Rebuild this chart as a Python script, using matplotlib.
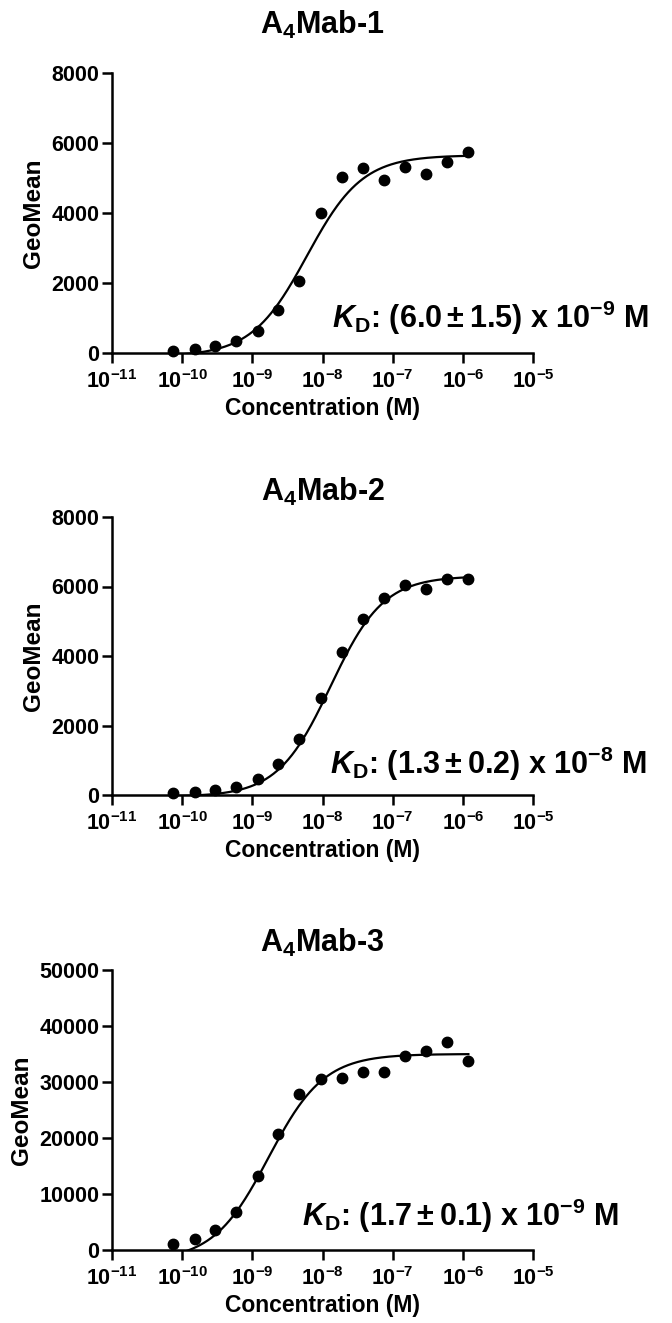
import matplotlib
matplotlib.use("Agg")
import matplotlib.pyplot as plt
import numpy as np

plt.rcParams['font.family'] = ['Liberation Sans', 'DejaVu Sans']
plt.rcParams['font.weight'] = 'bold'
plt.rcParams['mathtext.fontset'] = 'custom'
plt.rcParams['mathtext.rm'] = 'Liberation Sans:bold'
plt.rcParams['mathtext.bf'] = 'Liberation Sans:bold'
plt.rcParams['mathtext.it'] = 'Liberation Sans:italic:bold'
plt.rcParams['mathtext.default'] = 'rm'

MINUS = '\u2212'

# concentrations (M), same dilution series in all three panels
conc = [7.3e-11, 1.5e-10, 2.9e-10, 5.9e-10, 1.2e-9, 2.3e-9, 4.7e-9, 9.4e-9,
        1.9e-8, 3.8e-8, 7.5e-8, 1.5e-7, 3.0e-7, 6.0e-7, 1.2e-6]

geo_1 = [70, 115, 190, 335, 640, 1240, 2060, 4000, 5020, 5280, 4950, 5300, 5110, 5450, 5750]
geo_2 = [67, 96, 144, 240, 450, 890, 1600, 2790, 4110, 5060, 5670, 6030, 5930, 6220, 6220]
geo_3 = [1070, 1900, 3570, 6730, 13200, 20800, 27800, 30500, 30700, 31700, 31700, 34700, 35500, 37200, 33700]

titles = ['A$_4$Mab-1', 'A$_4$Mab-2', 'A$_4$Mab-3']
kd_text = ['$6.0\\pm1.5$) x 10$^{' + MINUS + '9}$ M',
           '$1.3\\pm0.2$) x 10$^{' + MINUS + '8}$ M',
           '$1.7\\pm0.1$) x 10$^{' + MINUS + '9}$ M']
kd_labels = [r'$\mathit{K}_\mathrm{D}$: (' + s for s in kd_text]

# fit parameters (KD, Bmax, hill, bottom)
kd_vals = [6.0e-9, 1.3e-8, 1.7e-9]
bmax_vals = [5650, 6300, 35000]
hill_vals = [1.1, 1.15, 1.1]
bottom_vals = [-100, -50, -2000]

ymax_vals = [8000, 8000, 50000]
yticks_list = [[0, 2000, 4000, 6000, 8000], [0, 2000, 4000, 6000, 8000],
               [0, 10000, 20000, 30000, 40000, 50000]]

xticks = [1e-11, 1e-10, 1e-9, 1e-8, 1e-7, 1e-6, 1e-5]
xtick_labels = ['10$^{-11}$', '10$^{-10}$', '10$^{-9}$', '10$^{-8}$', '10$^{-7}$', '10$^{-6}$', '10$^{-5}$']

all_data = [geo_1, geo_2, geo_3]

W, H = 672, 1323
fig = plt.figure(figsize=(W / 100, H / 100), dpi=100)

# axes boxes in pixels: (left, top, right, bottom)
boxes = [(112, 73, 533, 353), (112, 517, 533, 795), (112, 970, 533, 1250)]
title_y = [25, 492, 943]
kd_pos = [(332, 328), (330, 774), (302, 1226)]

for i in range(3):
    l, t, r, b = boxes[i]
    ax = fig.add_axes([l / W, 1 - b / H, (r - l) / W, (b - t) / H])
    ax.set_xscale('log')
    ax.set_xlim(1e-11, 1e-5)
    ax.set_ylim(0, ymax_vals[i])

    xfit = np.logspace(np.log10(conc[0]), np.log10(conc[-1]), 400)
    yfit = bottom_vals[i] + (bmax_vals[i] - bottom_vals[i]) * xfit ** hill_vals[i] / (kd_vals[i] ** hill_vals[i] + xfit ** hill_vals[i])
    ax.plot(xfit, yfit, color='black', lw=1.6, zorder=2)
    ax.plot(conc, all_data[i], 'o', color='black', ms=7.5, zorder=3, clip_on=False)

    ax.spines['top'].set_visible(False)
    ax.spines['right'].set_visible(False)
    ax.spines['left'].set_linewidth(1.8)
    ax.spines['bottom'].set_linewidth(1.8)

    ax.set_xticks(xticks)
    ax.set_xticklabels(xtick_labels)
    ax.set_yticks(yticks_list[i])
    ax.set_yticklabels([str(v) for v in yticks_list[i]])
    ax.xaxis.set_minor_locator(matplotlib.ticker.LogLocator(base=10, subs=np.arange(2, 10)))
    ax.xaxis.set_minor_formatter(matplotlib.ticker.NullFormatter())
    ax.tick_params(axis='both', which='major', direction='out', length=7, width=1.8,
                   labelsize=15.5, pad=2)
    ax.tick_params(axis='x', which='major', pad=5)
    ax.tick_params(axis='x', which='minor', direction='out', length=4, width=1.4)
    for lab in ax.get_xticklabels() + ax.get_yticklabels():
        lab.set_fontweight('bold')

    ax.set_xlabel('Concentration (M)', fontsize=16.5, fontweight='bold', labelpad=3)
    ax.set_ylabel('GeoMean', fontsize=17.5, fontweight='bold', labelpad=5)

    fig.text((l + r) / 2 / W, 1 - title_y[i] / H, titles[i], ha='center', va='center',
             fontsize=22, fontweight='bold')
    x0, y0 = kd_pos[i]
    fig.text(x0 / W, 1 - y0 / H, kd_labels[i], ha='left', va='baseline', fontsize=22,
             fontweight='bold')

fig.savefig('out.png', dpi=100)
